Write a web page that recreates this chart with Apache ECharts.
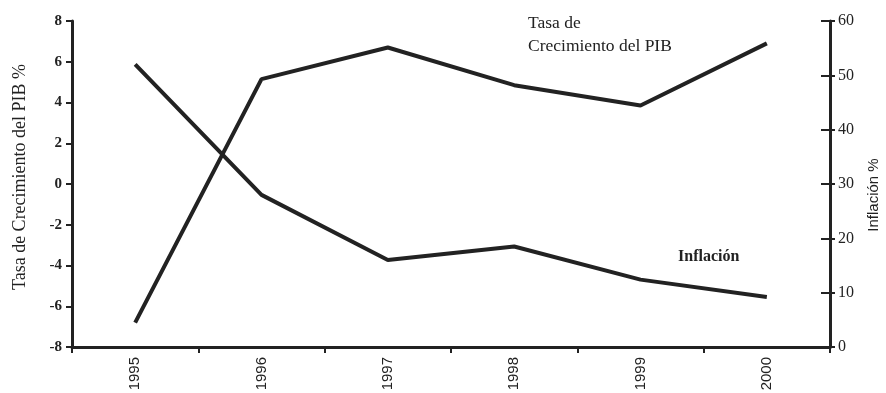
<!DOCTYPE html>
<html>
<head>
<meta charset="utf-8">
<script src="https://cdn.jsdelivr.net/npm/echarts@6/dist/echarts.min.js"></script>
<style>html,body{margin:0;padding:0;background:#fff}#c{width:886px;height:393px}</style>
</head>
<body>
<div id="c"></div>
<script>
const years = ['1995', '1996', '1997', '1998', '1999', '2000'];
const gdpGrowth = [-6.8, 5.15, 6.7, 4.85, 3.85, 6.9];
const inflation = [52, 28, 16, 18.5, 12.4, 9.2];
const leftTicks = { min: -8, max: 8, interval: 2 };
const rightTicks = { min: 0, max: 60, interval: 10 };

const ink = '#222';
const serif = '"Liberation Serif", "DejaVu Serif", serif';
const sans = '"Liberation Sans", "DejaVu Sans", sans-serif';
const chart = echarts.init(document.getElementById('c'));
chart.setOption({
  animation: false,
  backgroundColor: '#fff',
  grid: { left: 72, right: 56, top: 21, bottom: 46, containLabel: false, outerBoundsMode: 'none' },
  xAxis: {
    type: 'category', data: years, boundaryGap: true,
    axisLine: { onZero: false, lineStyle: { color: ink, width: 3 } },
    axisTick: { show: true, length: 6, lineStyle: { color: ink, width: 2 } },
    axisLabel: { rotate: 90, color: ink, fontFamily: sans, fontSize: 15, margin: 10 }
  },
  yAxis: [
    {
      type: 'value', position: 'left', min: leftTicks.min, max: leftTicks.max, interval: leftTicks.interval,
      splitLine: { show: false },
      axisLine: { show: true, onZero: false, lineStyle: { color: ink, width: 3 } },
      axisTick: { show: true, length: 6, lineStyle: { color: ink, width: 2 } },
      axisLabel: { color: ink, fontFamily: serif, fontSize: 15, fontWeight: 'bold', margin: 10 }
    },
    {
      type: 'value', position: 'right', min: rightTicks.min, max: rightTicks.max, interval: rightTicks.interval,
      splitLine: { show: false },
      axisLine: { show: true, onZero: false, lineStyle: { color: ink, width: 3 } },
      axisTick: { show: true, length: 5, lineStyle: { color: ink, width: 2 } },
      axisLabel: { color: ink, fontFamily: serif, fontSize: 16, margin: 8 }
    },
    {
      type: 'value', position: 'right', min: rightTicks.min, max: rightTicks.max, interval: rightTicks.interval,
      splitLine: { show: false },
      axisLine: { show: false, onZero: false },
      axisTick: { show: true, inside: true, length: 9, lineStyle: { color: ink, width: 2 } },
      axisLabel: { show: false }
    }
  ],
  series: [
    {
      name: 'Tasa de Crecimiento del PIB', type: 'line', yAxisIndex: 0, data: gdpGrowth,
      symbol: 'none', lineStyle: { color: ink, width: 4 }, z: 3
    },
    {
      name: 'Inflación', type: 'line', yAxisIndex: 1, data: inflation,
      symbol: 'none', lineStyle: { color: ink, width: 4 }, z: 3
    }
  ],
  graphic: [
    { type: 'text', left: 528, top: 12, style: { text: 'Tasa de\nCrecimiento del PIB', fill: ink, font: '17.5px ' + serif, lineHeight: 23 } },
    { type: 'text', left: 678, top: 249, style: { text: 'Inflación', fill: ink, font: 'bold 16px ' + serif } },
    { type: 'text', x: 20, y: 177, rotation: Math.PI / 2, style: { text: 'Tasa de Crecimiento del PIB %', fill: ink, font: '18px ' + serif, align: 'center', verticalAlign: 'middle' } },
    { type: 'text', x: 874, y: 195, rotation: Math.PI / 2, style: { text: 'Inflación %', fill: ink, font: '15px ' + sans, align: 'center', verticalAlign: 'middle' } }
  ]
});
</script>
</body>
</html>
